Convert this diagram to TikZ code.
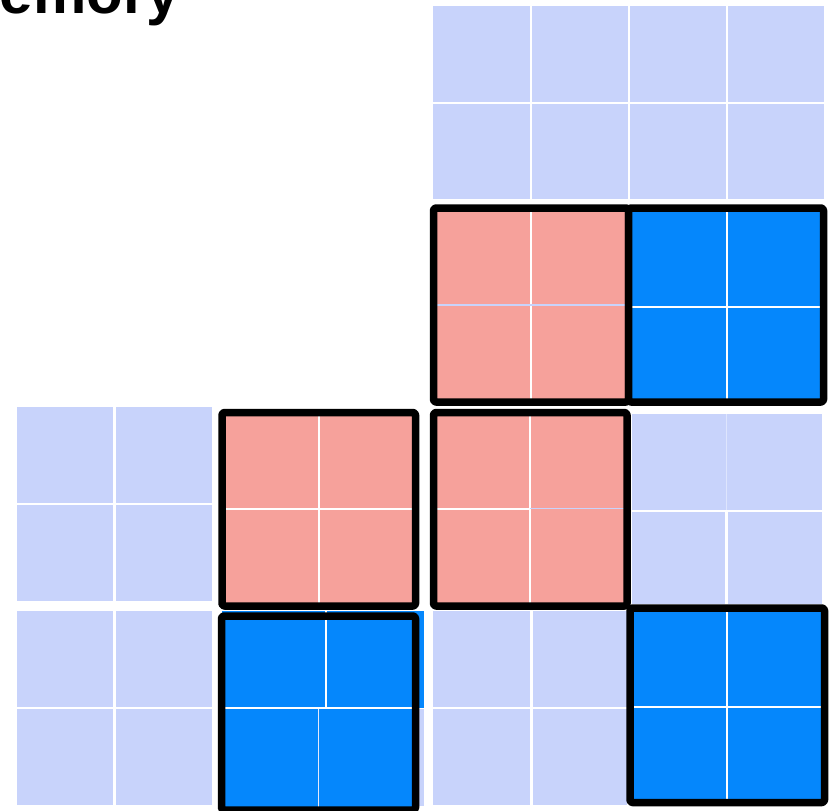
\documentclass[tikz,border=0pt]{standalone}
\usepackage{fontspec}
\setmainfont{Liberation Sans}
\definecolor{lcell}{RGB}{200,211,251}
\definecolor{salmon}{RGB}{246,161,155}
\definecolor{vblue}{RGB}{5,135,252}
\tikzset{
  light/.style={fill=lcell, draw=none},
  redfill/.style={fill=salmon, draw=none},
  bluefill/.style={fill=vblue, draw=none},
  divider/.style={draw=white, line width=2pt},
  faint/.style={draw=lcell!60!white, line width=1pt},
  frame/.style={draw=black, line width=7.5pt, rounded corners=2.5pt, line join=round}
}
\begin{document}
\begin{tikzpicture}[x=1pt,y=-1pt]
\useasboundingbox (0,0) rectangle (833,811);
% title (cut off at top)
\node[anchor=base east, inner sep=0pt, font=\bfseries\fontsize{60}{64}\selectfont] (title) at (180,13) {Memory};

% ---- light cells, top right ----
\foreach \xa/\xb in {433/529.5, 532/627.5, 630/725.5, 728/824}{
  \foreach \ya/\yb in {6/101.5, 104/199}{
    \path[light] (\xa,\ya) rectangle (\xb,\yb);
  }
}
% ---- light cells, lower left ----
\foreach \xa/\xb in {17/113, 116/212}{
  \foreach \ya/\yb in {407/503, 505/601, 611/707, 709/805}{
    \path[light] (\xa,\ya) rectangle (\xb,\yb);
  }
}
% ---- light cells right of second red box ----
\path[light] (632,414) rectangle (822,510);
\draw[faint] (726,414) -- (726,510);
\path[light] (632,512) rectangle (725,604);
\path[light] (728,512) rectangle (822,604);
% ---- light cells below second red box ----
\foreach \xa/\xb in {433/530, 533/627}{
  \foreach \ya/\yb in {611/707, 709/805}{
    \path[light] (\xa,\ya) rectangle (\xb,\yb);
  }
}
% small light strip beside lower blue box
\path[light] (405,709) rectangle (424,806);

% ---- red box A (top) ----
\path[redfill] (433.5,208) rectangle (628.5,402);
\draw[divider] (530.7,208) -- (530.7,402);
\draw[draw=lcell, line width=2pt] (433.5,305) -- (628.5,305);
\draw[frame] (433.5,208) rectangle (628.5,402);

% ---- blue box B (top) ----
\path[bluefill] (628.5,208) rectangle (823.5,402);
\draw[divider] (727,208) -- (727,402);
\draw[divider] (628.5,307) -- (823.5,307);
\draw[frame] (628.5,208) rectangle (823.5,402);

% ---- red box C ----
\path[redfill] (222,412.5) rectangle (415.5,606);
\draw[divider] (318.7,412.5) -- (318.7,606);
\draw[divider] (222,508.7) -- (415.5,508.7);
\draw[frame] (222,412.5) rectangle (415.5,606);

% ---- red box D ----
\path[redfill] (433.5,412.5) rectangle (627,606);
\draw[divider] (530.3,412.5) -- (530.3,606);
\draw[divider] (433.5,508.7) -- (530.3,508.7);
\draw[draw=lcell, line width=1.5pt] (530.3,508.7) -- (627,508.7);
\draw[frame] (433.5,412.5) rectangle (627,606);

% ---- blue box E (bottom middle) ----
\path[bluefill] (221.5,611) rectangle (424,707.7);
\path[bluefill] (221.5,707.7) rectangle (415.5,810);
\draw[divider] (326,611) -- (326,707.7);
\draw[draw=lcell!50!white, line width=1.5pt] (318.7,707.7) -- (318.7,810);
\draw[divider] (221.5,707.7) -- (415.5,707.7);
\draw[frame] (221.5,616) rectangle (415.5,810);

% ---- blue box F (bottom right) ----
\path[bluefill] (630,608) rectangle (824.5,802.5);
\draw[divider] (726.7,608) -- (726.7,802.5);
\draw[divider] (630,707.3) -- (824.5,707.3);
\draw[frame] (630,608) rectangle (824.5,802.5);
\end{tikzpicture}
\end{document}
